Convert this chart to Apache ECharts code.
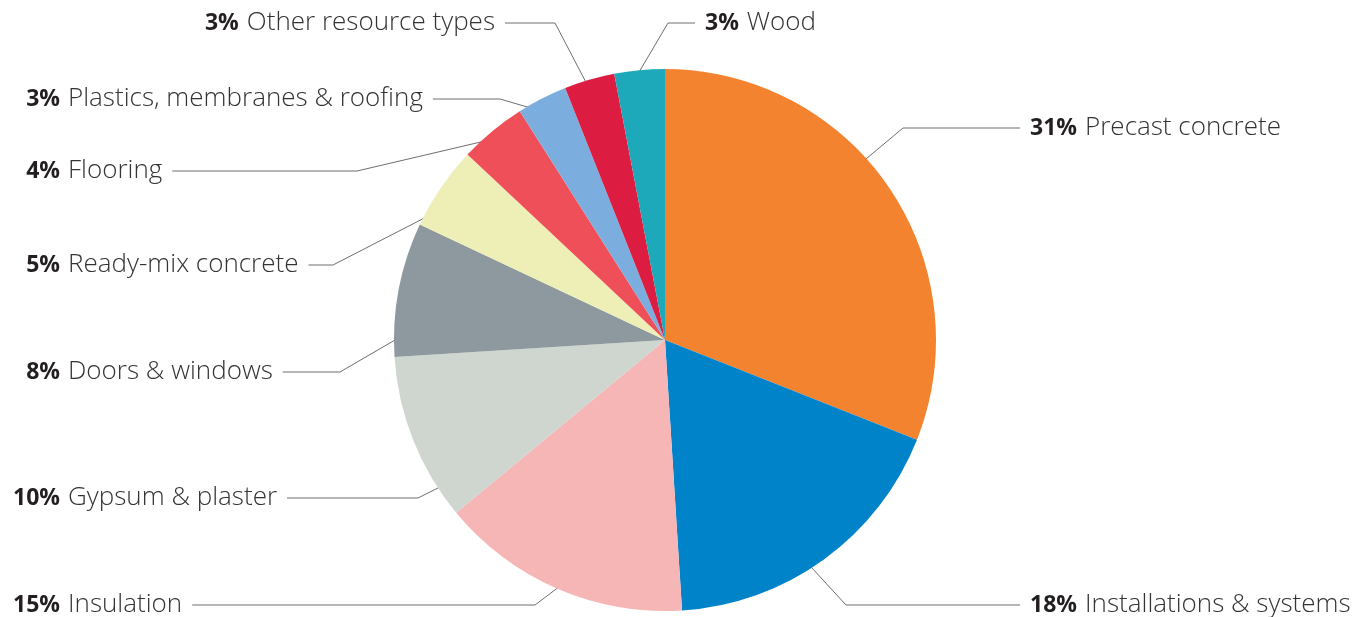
<!DOCTYPE html>
<html>
<head>
<meta charset="utf-8">
<script src="https://cdn.jsdelivr.net/npm/echarts@6/dist/echarts.min.js"></script>
<style>html,body{margin:0;padding:0;background:#fff;}#c{width:1365px;height:617px;}</style>
</head>
<body>
<div id="c"></div>
<script>
const categories = ['Precast concrete', 'Installations & systems', 'Insulation', 'Gypsum & plaster', 'Doors & windows', 'Ready-mix concrete', 'Flooring', 'Plastics, membranes & roofing', 'Other resource types', 'Wood'];
const shares = [31, 18, 15, 10, 8, 5, 4, 3, 3, 3];
const sliceColors = ['#F4832F', '#0083C9', '#F7B6B6', '#CFD6CF', '#8E999F', '#EEEFB6', '#EF4F58', '#7BAEDE', '#DD1C41', '#1DA9BA'];

// layout of the annotations (not data)
const CX = 665, CY = 340, R = 271;
const FONT = '"Open Sans", "DejaVu Sans", sans-serif';
const FS_P = 23, FS_N = 26;
const PW = 50, GAP = 8;
// side 'L': label left of its line (box left at x); 'LR': label left of line, right edge at x; 'R': label right of line, visible text starts at x
const labelPos = [
  { side: 'R',  x: 1030, y: 128, elbowX: 903, frac: 0.43 },
  { side: 'R',  x: 1030, y: 605, elbowX: 846, frac: 0.55 },
  { side: 'L',  x: 10,   y: 605, elbowX: 535, frac: 0.5 },
  { side: 'L',  x: 10,   y: 498, elbowX: 418, frac: 0.18 },
  { side: 'L',  x: 10,   y: 372, elbowX: 340, frac: 0.125 },
  { side: 'L',  x: 10,   y: 265, elbowX: 333, frac: 0.09 },
  { side: 'L',  x: 10,   y: 171, elbowX: 357, frac: 0.28 },
  { side: 'L',  x: 10,   y: 99,  elbowX: 500, frac: 0.18 },
  { side: 'LR', x: 495,  y: 23,  elbowX: 555, frac: 0.42 },
  { side: 'R',  x: 705,  y: 23,  elbowX: 668, frac: 0.5 }
];

const mctx = document.createElement('canvas').getContext('2d');
function textW(t, weight, size) { mctx.font = weight + ' ' + size + 'px ' + FONT; return mctx.measureText(t).width; }

const total = shares.reduce((a, b) => a + b, 0);
const data = categories.map((n, i) => ({ name: n, value: shares[i], itemStyle: { color: sliceColors[i] } }));

const chart = echarts.init(document.getElementById('c'), null, { renderer: 'canvas' });
chart.setOption({
  backgroundColor: '#ffffff',
  animation: false,
  series: [{
    type: 'pie',
    left: -1000, right: -1000, top: -1000, bottom: -1000,
    center: [CX + 1000, CY + 1000],
    radius: R,
    startAngle: 90,
    clockwise: true,
    avoidLabelOverlap: false,
    silent: true,
    data: data,
    itemStyle: { borderWidth: 0 },
    label: {
      show: true,
      position: 'outside',
      formatter: p => '{p|' + p.value + '%}{n|' + p.name + '}',
      rich: {
        p: { fontFamily: FONT, fontWeight: 700, fontSize: FS_P, color: '#231F20', width: PW, align: 'right' },
        n: { fontFamily: FONT, fontWeight: 300, fontSize: FS_N, color: '#333333', align: 'right', padding: [0, 0, 0, GAP] }
      }
    },
    labelLine: { show: true, smooth: false, lineStyle: { color: '#6F6F6F', width: 1 } },
    labelLayout: function (p) {
      const i = p.dataIndex;
      const L = labelPos[i];
      let before = 0;
      for (let k = 0; k < i; k++) before += shares[k];
      const th = (before + L.frac * shares[i]) / total * 2 * Math.PI;
      const sx = CX + (R - 1) * Math.sin(th), sy = CY - (R - 1) * Math.cos(th);
      const nameW = textW(categories[i], 300, FS_N);
      const pctW = textW(shares[i] + '%', 700, FS_P);
      let align = 'left', bx = L.x, endX;
      if (L.side === 'L') { endX = L.x + PW + GAP + nameW + 10; }
      else if (L.side === 'LR') { align = 'right'; endX = L.x + 10; }
      else { bx = L.x - (PW - pctW); endX = L.x - 10; }
      return {
        x: bx, y: L.y, align: align, verticalAlign: 'middle',
        labelLinePoints: [[sx, sy], [L.elbowX, L.y], [endX, L.y]]
      };
    }
  }]
});
</script>
</body>
</html>
